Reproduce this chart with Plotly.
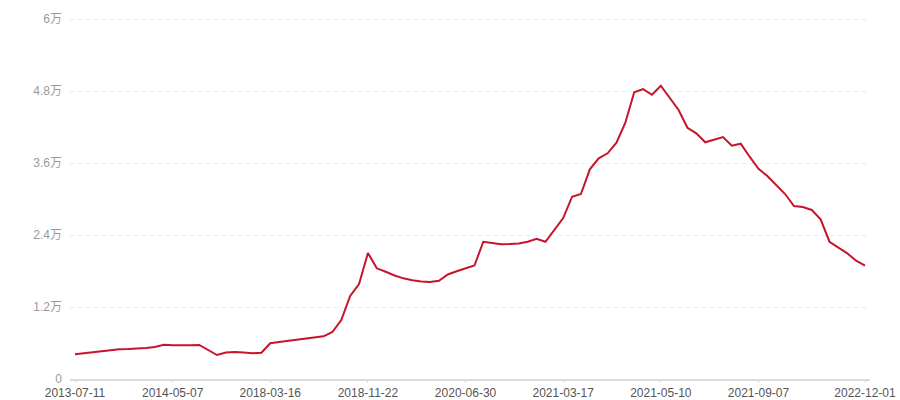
import plotly.graph_objects as go

values = [
    4120, 4280, 4450, 4630, 4780, 4970, 5000, 5050, 5170, 5330,
    5700, 5620, 5680, 5620, 5670, 4830, 4000, 4430, 4500, 4400,
    4300, 4370, 5950, 6170, 6370, 6620, 6800, 6970, 7120, 7830,
    9830, 13830, 15830, 21000, 18450, 17880, 17250, 16780, 16450, 16250,
    16170, 16380, 17420, 17970, 18420, 18920, 22880, 22720, 22470, 22500,
    22580, 22870, 23380, 22880, 24830, 26830, 30380, 30830, 34950, 36780,
    37620, 39380, 42720, 47780, 48330, 47380, 48880, 46830, 44830, 41880,
    40950, 39450, 39880, 40330, 38880, 39220, 37050, 35030, 33830, 32330,
    30830, 28830, 28670, 28170, 26620, 22880, 21880, 20950, 19720, 18880,
]
x_idx = list(range(len(values)))

x_tick_pos = [0, 11, 22, 33, 44, 55, 66, 77, 89]
x_tick_labels = [
    "2013-07-11", "2014-05-07", "2018-03-16", "2018-11-22", "2020-06-30",
    "2021-03-17", "2021-05-10", "2021-09-07", "2022-12-01",
]
y_tick_vals = [0, 12000, 24000, 36000, 48000, 60000]
y_tick_labels = ["0", "1.2万", "2.4万", "3.6万", "4.8万", "6万"]

# Liberation Sans first (compact line box), CJK font picks up 万
FONT = "Liberation Sans, Noto Sans CJK SC, sans-serif"

fig = go.Figure()
fig.add_scatter(
    x=x_idx, y=values, mode="lines",
    line={"color": "#c8142a", "width": 2},
    hoverinfo="y", showlegend=False,
)

fig.update_layout(
    width=900, height=400,
    margin={"l": 70, "r": 30, "t": 18, "b": 21, "autoexpand": False},
    paper_bgcolor="white", plot_bgcolor="white",
    font={"family": FONT, "size": 12, "color": "#999"},
)
fig.update_xaxes(
    range=[-0.563, 89.563], automargin=False,
    tickvals=x_tick_pos, ticktext=x_tick_labels,
    showgrid=False, zeroline=False,
    showline=True, linecolor="#dcdcdc", linewidth=2,
    ticks="outside", ticklen=2, tickcolor="#dcdcdc",
    tickfont={"color": "#555", "size": 12, "family": FONT},
)
fig.update_yaxes(
    range=[0, 60170], automargin=False,
    tickvals=y_tick_vals, ticktext=y_tick_labels,
    showgrid=True, gridcolor="#ebebeb", griddash="4px,4px", gridwidth=1,
    zeroline=False, showline=False, ticks="",
    ticklabelstandoff=7,
    tickfont={"color": "#9a9a9a", "size": 12, "family": FONT},
)

# drop the default body margin so the 900x400 figure fills the window exactly
fig.write_html(
    "out.html",
    config={"displayModeBar": False},
    post_script="document.body.style.margin='0';document.body.style.overflow='hidden';",
)
